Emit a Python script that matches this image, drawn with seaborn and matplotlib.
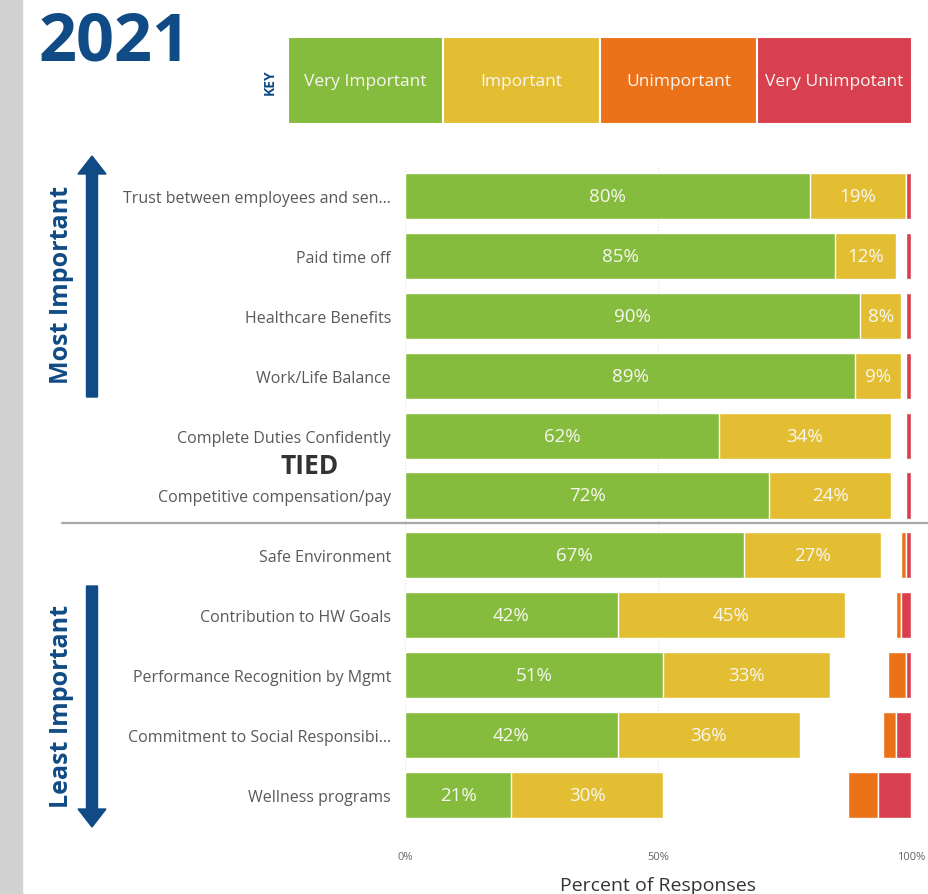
import numpy as np
import pandas as pd
import matplotlib
matplotlib.use("Agg")
import matplotlib.pyplot as plt
from matplotlib.patches import Rectangle, FancyArrow
from matplotlib.lines import Line2D
import seaborn as sns

# --- data ---
categories = [
    "Trust between employees and sen...",
    "Paid time off",
    "Healthcare Benefits",
    "Work/Life Balance",
    "Complete Duties Confidently",
    "Competitive compensation/pay",
    "Safe Environment",
    "Contribution to HW Goals",
    "Performance Recognition by Mgmt",
    "Commitment to Social Responsibi...",
    "Wellness programs",
]
very_important = [80, 85, 90, 89, 62, 72, 67, 42, 51, 42, 21]
important = [19, 12, 8, 9, 34, 24, 27, 45, 33, 36, 30]
unimportant = [0, 0, 0, 0, 0, 0, 1, 1, 3.5, 2.5, 6]
very_unimportant = [1, 1, 1, 1, 1, 1, 1, 2, 1, 3, 6.5]

key_labels = ["Very Important", "Important", "Unimportant", "Very Unimpotant"]
x_ticks = [0, 50, 100]

GREEN = "#86bc3e"
YELLOW = "#e3be33"
ORANGE = "#ec7219"
RED = "#d8404f"
NAVY = "#114b85"

sns.set_theme(style="white")
plt.rcParams["font.family"] = ["Open Sans", "DejaVu Sans"]

df = pd.DataFrame({
    "cat": categories,
    "vi": very_important,
    "imp": important,
    "un": unimportant,
    "vu": very_unimportant,
})
df["vi_imp"] = df["vi"] + df["imp"]

fig = plt.figure(figsize=(9.29, 8.95), dpi=100)
ax = fig.add_axes([405 / 929, 1 - 826 / 895, 506 / 929, 659 / 895])

bar_h = 0.77
# stacked: draw cumulative first, then green on top
sns.barplot(data=df, x="vi_imp", y="cat", color=YELLOW, width=bar_h,
            orient="h", ax=ax, saturation=1)
sns.barplot(data=df, x="vi", y="cat", color=GREEN, width=bar_h,
            orient="h", ax=ax, saturation=1)

# unimportant parts are anchored on the 100% end
pos = np.arange(len(categories))
left_un = 100 - df["un"] - df["vu"]
ax.barh(pos, df["un"], left=left_un, height=bar_h, color=ORANGE)
ax.barh(pos, df["vu"], left=100 - df["vu"], height=bar_h, color=RED)

# percentage labels
for i, row in df.iterrows():
    ax.text(row["vi"] / 2, i, f"{row['vi']:.0f}%", ha="center", va="center",
            color="#f7f7f2", fontsize=13.5)
    ax.text(row["vi"] + row["imp"] / 2, i, f"{row['imp']:.0f}%", ha="center",
            va="center", color="#f7f7f2", fontsize=13.5)

ax.set_xlim(0, 100)
ax.set_ylim(10.5, -0.5)
ax.set_xticks(x_ticks)
ax.set_xticklabels([f"{t}%" for t in x_ticks], fontsize=8, color="#666666")
ax.tick_params(axis="x", length=0, pad=19)
ax.tick_params(axis="y", length=0, pad=10, labelsize=11.5, labelcolor="#595959")
ax.set_ylabel("")
ax.set_xlabel("Percent of Responses", fontsize=14, color="#333333", labelpad=10)
for x in x_ticks:
    ax.axvline(x, color="#e4e4e4", lw=0.8, ls=":", zorder=0)
sns.despine(ax=ax, left=True, bottom=True)

# --- decorations in pixel coordinates ---
ov = fig.add_axes([0, 0, 1, 1], zorder=5)
ov.set_xlim(0, 929)
ov.set_ylim(895, 0)
ov.axis("off")
ov.patch.set_visible(False)

ov.add_patch(Rectangle((0, 0), 22, 895, color="#d2d2d2"))
ov.text(39, 43, "2021", fontsize=48, fontweight="bold", color=NAVY,
        ha="left", va="center")

# key
key_colors = [GREEN, YELLOW, ORANGE, RED]
kx = [288, 443, 600, 757, 912]
for j, (lab, c) in enumerate(zip(key_labels, key_colors)):
    ov.add_patch(Rectangle((kx[j], 38), kx[j + 1] - kx[j], 87, facecolor=c,
                           edgecolor="white", lw=1.5))
    ov.text((kx[j] + kx[j + 1]) / 2, 82, lab, ha="center", va="center",
            color="#f7f7f2", fontsize=12.5)
ov.text(270, 82, "KEY", rotation=90, ha="center", va="center",
        fontsize=10, fontweight="bold", color=NAVY)

# arrows
ov.add_patch(FancyArrow(92, 398, 0, -241, width=11, head_width=28,
                        head_length=18, length_includes_head=True,
                        color=NAVY))
ov.add_patch(FancyArrow(92, 587, 0, 241, width=11, head_width=28,
                        head_length=18, length_includes_head=True,
                        color=NAVY))
ov.text(62, 285, "Most Important", rotation=90, ha="center", va="center",
        fontsize=18, fontweight="bold", color=NAVY)
ov.text(62, 707, "Least Important", rotation=90, ha="center", va="center",
        fontsize=18, fontweight="bold", color=NAVY)

ov.text(310, 466, "TIED", ha="center", va="center", fontsize=19,
        fontweight="bold", color="#333333")
ov.add_line(Line2D([62, 929], [524, 524], color="#a8a8a8", lw=1.6))

fig.savefig("out.png", dpi=100)
